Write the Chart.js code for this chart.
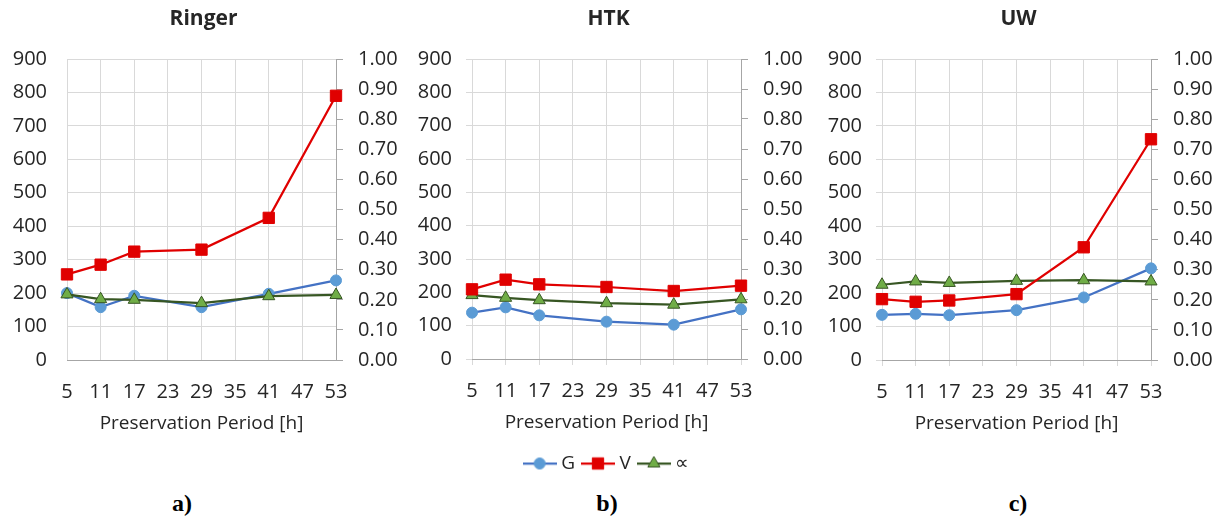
<!DOCTYPE html>
<html><head><meta charset="utf-8">
<script src="https://cdn.jsdelivr.net/npm/chart.js@4.4.1/dist/chart.umd.min.js"></script>
<style>
html,body{margin:0;padding:0;background:#fff}
body{width:1222px;height:520px;overflow:hidden;position:relative}
.p{position:absolute;top:0}
.lab{position:absolute;top:503px;font-family:"Liberation Serif","DejaVu Serif",serif;font-weight:bold;font-size:24px;color:#000;transform:translate(-50%,-50%);white-space:nowrap}
</style></head><body>
<div class="p" style="left:0px"><canvas id="c1" width="407" height="442"></canvas></div>
<div class="p" style="left:405px"><canvas id="c2" width="407" height="486"></canvas></div>
<div class="p" style="left:815px"><canvas id="c3" width="407" height="442"></canvas></div>
<div class="lab" style="left:182px">a)</div>
<div class="lab" style="left:607px">b)</div>
<div class="lab" style="left:1018px">c)</div>
<script>
// ---- data ----
const hours = [5, 11, 17, 29, 41, 53];
const xMin = 5, xMax = 53, xStep = 6;
const leftMax = 900, leftStep = 100;
const rightMax = 1.0, rightStep = 0.1;
const panelTitles = ['Ringer', 'HTK', 'UW'];
const seriesNames = ['G', 'V', '\u221D'];
const xAxisTitle = 'Preservation Period [h]';

const ringerG = [200, 158, 192, 158, 198, 238];
const ringerV = [256, 285, 324, 330, 425, 790];
const ringerA = [0.218, 0.202, 0.200, 0.189, 0.212, 0.216];

const htkG = [139, 155, 131, 112, 103, 149];
const htkV = [209, 238, 224, 216, 204, 220];
const htkA = [0.213, 0.204, 0.196, 0.186, 0.181, 0.199];

const uwG = [135, 138, 134, 149, 187, 274];
const uwV = [182, 174, 178, 197, 337, 660];
const uwA = [0.250, 0.261, 0.256, 0.263, 0.265, 0.261];

// ---- styles ----
const FONT = '"Open Sans", "Noto Sans", sans-serif';
const TXT = '#262626';
const GRID = '#D9D9D9';
const AXIS = '#A6A6A6';
const styles = [
  {line: '#4472C4', fill: '#5B9BD5', border: '#5B9BD5', shape: 'circle', r: 5.5, bw: 1},
  {line: '#E00000', fill: '#E00000', border: '#E00000', shape: 'rect', r: 8, bw: 1},
  {line: '#375623', fill: '#70AD47', border: '#375623', shape: 'triangle', r: 7, bw: 1}
];

function legendImage(s) {
  const c = document.createElement('canvas');
  c.width = 34; c.height = 16;
  const g = c.getContext('2d');
  g.strokeStyle = s.line; g.lineWidth = 2.25;
  g.beginPath(); g.moveTo(0, 8); g.lineTo(34, 8); g.stroke();
  g.fillStyle = s.fill; g.strokeStyle = s.border; g.lineWidth = s.bw;
  g.beginPath();
  if (s.shape === 'circle') { g.arc(17, 8, s.r, 0, Math.PI * 2); }
  else if (s.shape === 'rect') { const h = s.r * Math.SQRT1_2; g.rect(17 - h, 8 - h, 2 * h, 2 * h); }
  else { g.moveTo(17, 8 - s.r); g.lineTo(17 + s.r * 0.866, 8 + s.r * 0.5); g.lineTo(17 - s.r * 0.866, 8 + s.r * 0.5); g.closePath(); }
  g.fill(); g.stroke();
  return c;
}

function makeChart(id, title, G, V, A, cfg) {
  const series = [G, V, A];
  const datasets = series.map((vals, k) => ({
    label: seriesNames[k],
    data: hours.map((h, i) => ({x: h, y: vals[i]})),
    yAxisID: k === 2 ? 'y1' : 'y',
    borderColor: styles[k].line,
    backgroundColor: styles[k].fill,
    borderWidth: 2.25,
    pointStyle: styles[k].shape,
    pointRadius: styles[k].r,
    pointBackgroundColor: styles[k].fill,
    pointBorderColor: styles[k].border,
    pointBorderWidth: styles[k].bw,
    tension: 0,
    clip: false,
    order: k === 1 ? 0 : (k === 2 ? 1 : 2)
  }));
  const imgs = styles.map(legendImage);
  return new Chart(document.getElementById(id), {
    type: 'line',
    data: {datasets},
    options: {
      responsive: false, animation: false, devicePixelRatio: 1,
      layout: {padding: {left: 0, right: 0, top: 0, bottom: 3}},
      plugins: {
        title: {display: true, text: title, color: TXT, font: {family: FONT, size: 21, weight: 'bold'}, lineHeight: 1.2, padding: {top: 6.5, bottom: 27.3}},
        tooltip: {enabled: false},
        legend: {
          display: !!cfg.legend, position: 'bottom',
          labels: {
            usePointStyle: true, pointStyleWidth: 24, padding: 11, color: TXT,
            font: {family: FONT, size: 19},
            sort: (a, b) => a.datasetIndex - b.datasetIndex,
            generateLabels: (chart) => {
              const items = Chart.defaults.plugins.legend.labels.generateLabels(chart);
              items.forEach((it) => { it.pointStyle = imgs[it.datasetIndex]; });
              return items;
            }
          }
        }
      },
      scales: {
        x: {
          type: 'linear', min: xMin, max: xMax,
          ticks: {stepSize: xStep, color: TXT, font: {family: FONT, size: 20}, padding: 20 - cfg.tl, maxRotation: 0},
          grid: {color: GRID, tickLength: cfg.tl, tickColor: GRID},
          border: {color: AXIS},
          title: {display: true, text: xAxisTitle, color: TXT, font: {family: FONT, size: 19}, padding: {top: 4, bottom: 4 + cfg.extra}},
          afterFit: (s) => { s.height = 79 + cfg.extra; }
        },
        y: {
          position: 'left', min: 0, max: leftMax,
          ticks: {stepSize: leftStep, color: TXT, font: {family: FONT, size: 20}, padding: 20 - cfg.tl},
          grid: {color: GRID, tickLength: cfg.tl, tickColor: GRID},
          border: {display: false},
          afterFit: (s) => { s.width = 67; }
        },
        y1: {
          position: 'right', min: 0, max: rightMax,
          ticks: {stepSize: rightStep, color: TXT, font: {family: FONT, size: 20}, padding: 15, callback: (v) => Number(v).toFixed(2)},
          grid: {drawOnChartArea: false, drawTicks: true, tickLength: 7, color: AXIS, tickColor: AXIS},
          border: {color: AXIS},
          afterFit: (s) => { s.width = 71; }
        }
      }
    }
  });
}

makeChart('c1', panelTitles[0], ringerG, ringerV, ringerA, {tl: 0, extra: 0, legend: false});
makeChart('c2', panelTitles[1], htkG, htkV, htkA, {tl: 6, extra: 5, legend: true});
makeChart('c3', panelTitles[2], uwG, uwV, uwA, {tl: 6, extra: 0, legend: false});
</script>
</body></html>
